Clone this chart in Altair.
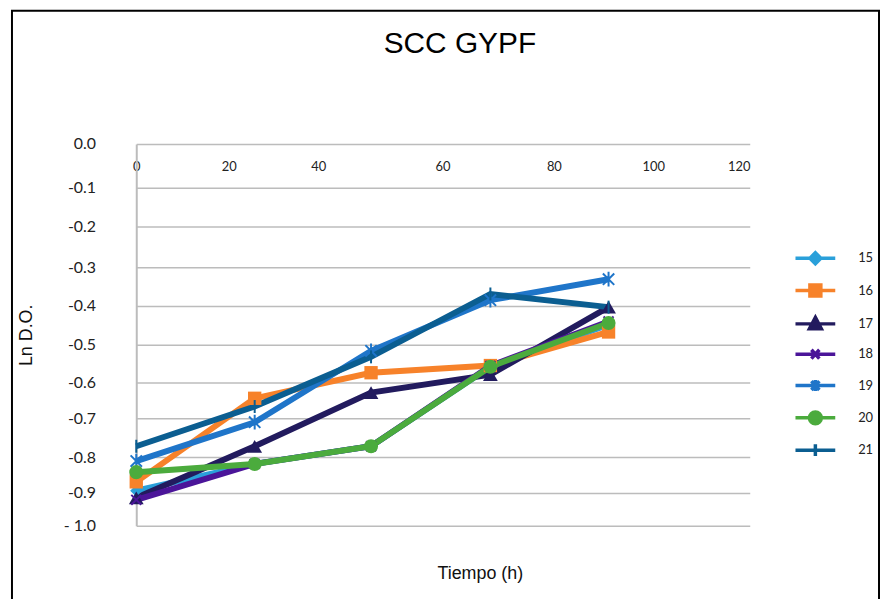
import altair as alt
import pandas as pd

# ---- data ----
tiempos = [0, 25.8, 48.5, 68.6, 91]
series = ["15", "16", "17", "18", "19", "20", "21"]
s15 = [-0.894, -0.819, -0.772, -0.558, -0.448]
s16 = [-0.869, -0.644, -0.574, -0.555, -0.467]
s17 = [-0.915, -0.772, -0.628, -0.579, -0.403]
s18 = [-0.921, -0.819, -0.772, -0.556, -0.440]
s19 = [-0.811, -0.710, -0.516, -0.385, -0.331]
s20 = [-0.842, -0.819, -0.772, -0.558, -0.444]
s21 = [-0.772, -0.667, -0.532, -0.369, -0.403]
valores = [s15, s16, s17, s18, s19, s20, s21]

x_ticks = [0, 20, 40, 60, 80, 100, 120]
y_ticks = [-1.0, -0.9, -0.8, -0.7, -0.6, -0.5, -0.4, -0.3, -0.2, -0.1, 0.0]

# ---- styles ----
colores = ["#2aa0da", "#f7822a", "#221b5e", "#4b1599", "#1f75c9", "#4bab3d", "#0b5e91"]
marker_shapes = [
    "M0,-1L1,0L0,1L-1,0Z",
    "square",
    "triangle-up",
    "M-1,-1L1,1M-1,1L1,-1",
    "M-1,-1L1,1M-1,1L1,-1M0,-1.3V1.3",
    "circle",
    "M0,-1V1",
]
marker_filled = [True, True, True, False, False, True, False]
marker_sizes = [150, 180, 220, 100, 130, 200, 170]
legend_paths = [
    "M-4,0H4M0,-1.1L1.1,0L0,1.1L-1.1,0Z",
    "M-4,0H4M-1.1,-1.1H1.1V1.1H-1.1Z",
    "M-4,0H4M0,-1.3L1.2,1H-1.2Z",
    "M-4,0H4M-0.8,-0.9L0.8,0.9M-0.8,0.9L0.8,-0.9",
    "M-4,0H4M-0.8,-0.9L0.8,0.9M-0.8,0.9L0.8,-0.9M0,-1.1V1.1",
    "M-4,0H4M1.2,0A1.2,1.2,0,1,1,-1.2,0A1.2,1.2,0,1,1,1.2,0Z",
    "M-4,0H4M0,-1.2V1.2",
]

rows = []
for name, vals in zip(series, valores):
    for t, v in zip(tiempos, vals):
        rows.append({"serie": name, "t": t, "v": v})
df = pd.DataFrame(rows)

x_scale = alt.Scale(domain=[0, 20, 40, 60, 80, 100, 120, 122.5],
                    range=[0, 93, 183, 308, 420, 520, 606, 617], nice=False, zero=False)
y_scale = alt.Scale(domain=y_ticks,
                    range=[384, 351, 315, 276, 240, 202, 163, 124, 83, 44, 0],
                    nice=False, zero=False)

x_axis = alt.Axis(orient="bottom", offset=-384, values=x_ticks, domain=False, ticks=False,
                  grid=False, labelPadding=23, labelBaseline="middle", labelFont="Lato",
                  labelFontSize=13, labelColor="#222", labelFlush=False, labelOverlap=False,
                  title="Tiempo (h)", titleFont="Liberation Sans", titleFontSize=18,
                  titleFontWeight="normal", titleColor="#111", titleX=345.5, titleY=437,
                  titleBaseline="alphabetic", titleAlign="center")
y_axis = alt.Axis(values=y_ticks,
                  labelExpr="datum.value <= -0.999 ? '- 1.0' : (datum.value < 0 ? '-' + format(-datum.value, '.1f') : '0.0')",
                  domain=True, domainColor="#bcbcbc", domainWidth=2, ticks=False,
                  grid=True, gridColor="#bcbcbc", gridWidth=1.5, labelPadding=41,
                  labelFont="Lato", labelFontSize=16, labelColor="#222", labelOverlap=False,
                  labelFlush=False, labelBaseline="middle",
                  title="Ln D.O.", titleFont="Liberation Sans", titleFontSize=18,
                  titleFontWeight="normal", titleColor="#111", titleX=-110, titleY=192,
                  titleBaseline="middle", titleAlign="center")

X = alt.X("t:Q", scale=x_scale, axis=x_axis)
Y = alt.Y("v:Q", scale=y_scale, axis=y_axis)

leg = alt.Legend(title=None, orient="none", legendX=676, legendY=108, symbolSize=100,
                 symbolStrokeWidth=3.5, symbolOpacity=1, labelFont="Lato", labelFontSize=13,
                 labelColor="#222", labelOffset=36, rowPadding=6.5, padding=0)

color_scale = alt.Scale(domain=series, range=colores)

lines = alt.Chart(df).mark_line(strokeWidth=6).encode(
    x=X, y=Y, color=alt.Color("serie:N", scale=color_scale, legend=leg)
)

marker_layers = []
for name, col, shp, fil, sz in zip(series, colores, marker_shapes, marker_filled, marker_sizes):
    marker_layers.append(
        alt.Chart(df).transform_filter(alt.datum.serie == name).mark_point(
            shape=shp, filled=fil, color=col, size=sz, opacity=1,
            strokeWidth=2 if not fil else 1
        ).encode(x=X, y=Y)
    )

legend_layer = alt.Chart(df).mark_point(filled=True, opacity=0, size=100).encode(
    x=X, y=Y,
    color=alt.Color("serie:N", scale=color_scale, legend=leg),
    stroke=alt.Stroke("serie:N", scale=alt.Scale(domain=series, range=colores), legend=leg),
    shape=alt.Shape("serie:N", scale=alt.Scale(domain=series, range=legend_paths), legend=leg),
)

frame = alt.Chart(pd.DataFrame({"k": [0]})).mark_rect(
    fillOpacity=0, stroke="black", strokeWidth=2
).encode(x=alt.value(-125), x2=alt.value(747), y=alt.value(-134), y2=alt.value(480))

chart = alt.layer(frame, lines, *marker_layers, legend_layer).properties(
    width=617, height=384,
    background="white",
    padding={"left": 129, "top": 135, "right": 131, "bottom": 72},
    autosize=alt.AutoSizeParams(type="none"),
    title=alt.TitleParams("SCC GYPF", font="Liberation Sans", fontSize=30,
                          fontWeight="normal", color="#000", anchor="middle",
                          dx=17, offset=-50),
).configure_view(stroke=None)

chart.save("out.html", embed_options={"renderer": "svg", "actions": False})
